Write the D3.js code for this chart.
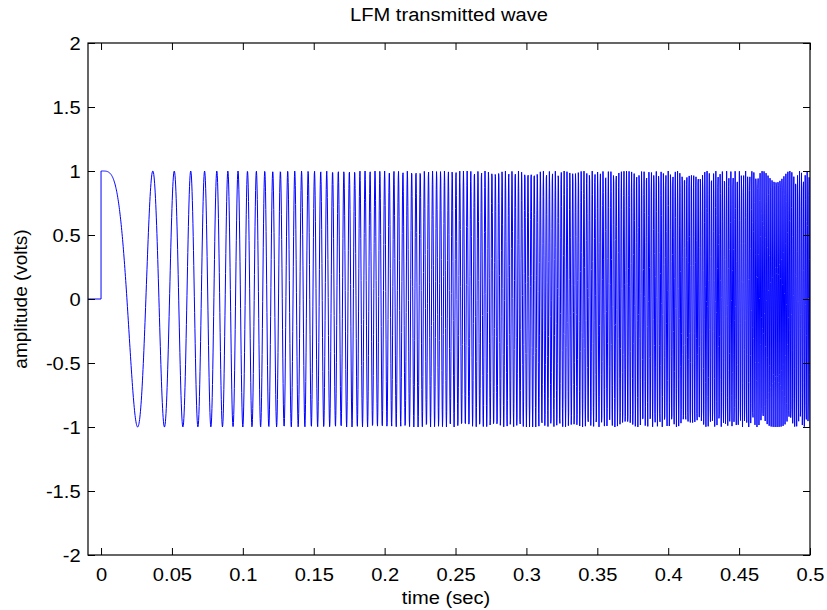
<!DOCTYPE html>
<html><head><meta charset="utf-8">
<script src="https://cdn.jsdelivr.net/npm/d3@7"></script>
<style>
body{margin:0;background:#fff}
svg text{font-family:"Liberation Sans",Arial,Helvetica,sans-serif;fill:#000}
</style>
</head><body><svg id="chart" width="827" height="610"></svg>
<script>
// ---- chart content ----
const titleText = "LFM transmitted wave";
const xLabel = "time (sec)";
const yLabel = "amplitude (volts)";
const xTicks = [0, 0.05, 0.1, 0.15, 0.2, 0.25, 0.3, 0.35, 0.4, 0.45, 0.5];
const yTicks = [-2, -1.5, -1, -0.5, 0, 0.5, 1, 1.5, 2];
const xDomain = [-0.0092, 0.5];
const yDomain = [-2, 2];
// flat zero before the pulse starts
const leadInTimes = [-0.0092, 0];
const leadInValues = [0, 0];
const pulseWindow = [0, 0.5];   // seconds
const chirpRate = [1500];       // Hz per second
const sampleRate = [5000];      // samples per second

// ---- layout ----
const plot = {left: 88, right: 810, top: 43, bottom: 555};
const svg = d3.select("#chart");
const x = d3.scaleLinear().domain(xDomain).range([plot.left, plot.right]);
const y = d3.scaleLinear().domain(yDomain).range([plot.bottom, plot.top]);

// ---- series samples ----
const series = [];
leadInTimes.forEach((t, i) => series.push([t, leadInValues[i]]));
const nSamples = Math.round((pulseWindow[1] - pulseWindow[0]) * sampleRate[0]);
for (let i = 0; i <= nSamples; i++) {
  const t = pulseWindow[0] + i / sampleRate[0];
  series.push([t, Math.cos(Math.PI * chirpRate[0] * t * t)]);
}

svg.append("defs").append("clipPath").attr("id", "clip")
  .append("rect").attr("x", plot.left).attr("y", plot.top)
  .attr("width", plot.right - plot.left).attr("height", plot.bottom - plot.top);

svg.append("path")
  .datum(series)
  .attr("clip-path", "url(#clip)")
  .attr("fill", "none")
  .attr("stroke", "#0000ff")
  .attr("stroke-width", 1)
  .attr("d", d3.line().x(d => x(d[0])).y(d => y(d[1])));

// ---- axes ----
const fmt = d => String(d);
const fontSize = 19;
const stretch = "scale(1.06,1)";
const gB = svg.append("g").attr("transform", `translate(0,${plot.bottom})`)
  .call(d3.axisBottom(x).tickValues(xTicks).tickFormat(fmt).tickSizeInner(-7).tickSizeOuter(0).tickPadding(13));
const gT = svg.append("g").attr("transform", `translate(0,${plot.top})`)
  .call(d3.axisTop(x).tickValues(xTicks).tickFormat("").tickSizeInner(-7).tickSizeOuter(0));
const gL = svg.append("g").attr("transform", `translate(${plot.left},0)`)
  .call(d3.axisLeft(y).tickValues(yTicks).tickFormat(fmt).tickSizeInner(-7).tickSizeOuter(0).tickPadding(7));
const gR = svg.append("g").attr("transform", `translate(${plot.right},0)`)
  .call(d3.axisRight(y).tickValues(yTicks).tickFormat("").tickSizeInner(-7).tickSizeOuter(0));
[gB, gT, gL, gR].forEach(g => {
  g.select(".domain").remove();
  g.selectAll(".tick line").attr("stroke", "#000").attr("stroke-width", 1);
  g.selectAll("text").attr("font-size", fontSize).attr("fill", "#000").attr("transform", stretch);
  g.attr("font-family", null).attr("font-size", null);
});

svg.append("rect")
  .attr("x", plot.left).attr("y", plot.top)
  .attr("width", plot.right - plot.left).attr("height", plot.bottom - plot.top)
  .attr("fill", "none").attr("stroke", "#000").attr("stroke-width", 1.2);

// ---- titles ----
svg.append("text").attr("transform", `translate(${(plot.left + plot.right) / 2},21) ${stretch}`)
  .attr("text-anchor", "middle").attr("font-size", fontSize).text(titleText);
svg.append("text").attr("transform", `translate(446,604) ${stretch}`)
  .attr("text-anchor", "middle").attr("font-size", fontSize).text(xLabel);
svg.append("text").attr("transform", `translate(27,${(plot.top + plot.bottom) / 2}) rotate(-90)`)
  .attr("text-anchor", "middle").attr("font-size", fontSize).text(yLabel);
</script>
</body></html>
